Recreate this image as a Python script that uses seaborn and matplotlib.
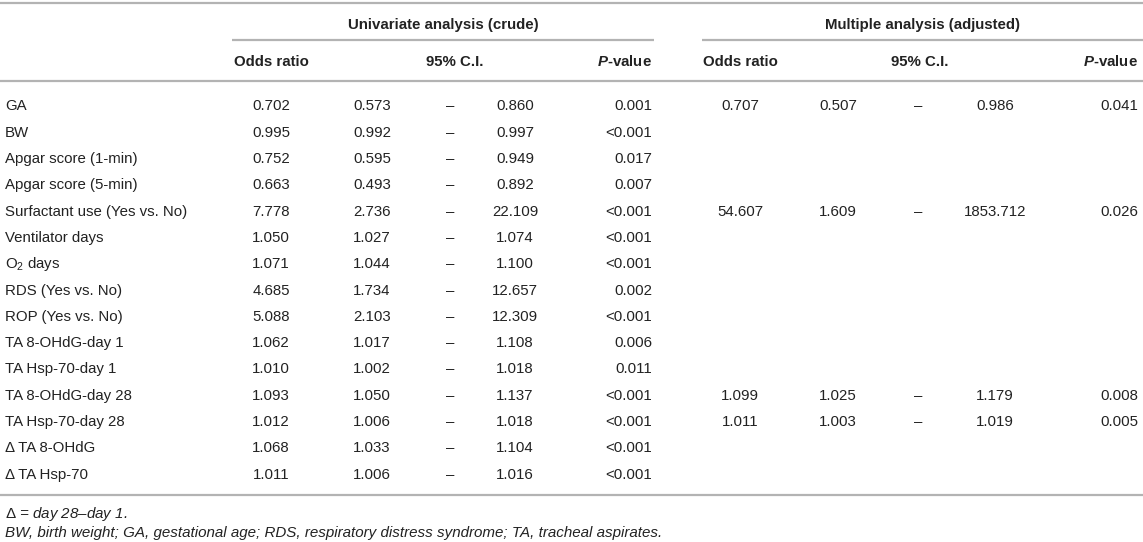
import matplotlib
matplotlib.use("Agg")
import matplotlib.pyplot as plt
import seaborn as sns

# ---------------- data ----------------
variables = ["GA", "BW", "Apgar score (1-min)", "Apgar score (5-min)",
             "Surfactant use (Yes vs. No)", "Ventilator days", "O$_2$ days",
             "RDS (Yes vs. No)", "ROP (Yes vs. No)", "TA 8-OHdG-day 1",
             "TA Hsp-70-day 1", "TA 8-OHdG-day 28", "TA Hsp-70-day 28",
             "\u0394 TA 8-OHdG", "\u0394 TA Hsp-70"]
uni_or = [0.702, 0.995, 0.752, 0.663, 7.778, 1.050, 1.071, 4.685, 5.088,
          1.062, 1.010, 1.093, 1.012, 1.068, 1.011]
uni_lo = [0.573, 0.992, 0.595, 0.493, 2.736, 1.027, 1.044, 1.734, 2.103,
          1.017, 1.002, 1.050, 1.006, 1.033, 1.006]
uni_hi = [0.860, 0.997, 0.949, 0.892, 22.109, 1.074, 1.100, 12.657, 12.309,
          1.108, 1.018, 1.137, 1.018, 1.104, 1.016]
uni_p = ["0.001", "<0.001", "0.017", "0.007", "<0.001", "<0.001", "<0.001",
         "0.002", "<0.001", "0.006", "0.011", "<0.001", "<0.001", "<0.001",
         "<0.001"]
mul_or = [0.707, None, None, None, 54.607, None, None, None, None, None,
          None, 1.099, 1.011, None, None]
mul_lo = [0.507, None, None, None, 1.609, None, None, None, None, None,
          None, 1.025, 1.003, None, None]
mul_hi = [0.986, None, None, None, 1853.712, None, None, None, None, None,
          None, 1.179, 1.019, None, None]
mul_p = ["0.041", None, None, None, "0.026", None, None, None, None, None,
         None, "0.008", "0.005", None, None]
group_titles = ["Univariate analysis (crude)", "Multiple analysis (adjusted)"]
col_titles = ["Odds ratio", "95% C.I.", "$\\mathbfit{P}$-value"]
footnotes = ["$\\Delta$ = day 28\u2013day 1.",
             "BW, birth weight; GA, gestational age; RDS, respiratory distress "
             "syndrome; TA, tracheal aspirates."]

# ---------------- style ----------------
sns.set_theme(style="white")
plt.rcParams["font.family"] = ["Liberation Sans", "DejaVu Sans"]
plt.rcParams["mathtext.fontset"] = "custom"
plt.rcParams["mathtext.rm"] = "Liberation Sans"
plt.rcParams["mathtext.it"] = "Liberation Sans:italic"
plt.rcParams["mathtext.bf"] = "Liberation Sans:bold"
plt.rcParams["mathtext.bfit"] = "Liberation Sans:italic:bold"

W, H = 1143, 542
fig = plt.figure(figsize=(W / 100, H / 100), dpi=100)
ax = fig.add_axes([0, 0, 1, 1])
ax.set_xlim(0, W)
ax.set_ylim(H, 0)
ax.axis("off")

TXT = "#222222"
RULE = "#b3b3b3"
FS = 10.8
FS_FOOT = 10.9
BASE = 5.5  # offset from visual centre to baseline

# layout
label_x = 5
groups = [
    dict(orx=271, lox=372, dashx=450, cix=455, hix=515, px=652,
         rule=(232, 654), vals=(uni_or, uni_lo, uni_hi, uni_p)),
    dict(orx=740, lox=838, dashx=918, cix=920, hix=995, px=1138,
         rule=(702, 1143), vals=(mul_or, mul_lo, mul_hi, mul_p)),
]
y_group, y_head = 23, 61
row0, dy = 105, 26.29

# rules
ax.hlines(3, 0, W, color=RULE, lw=1.6)
ax.hlines(81, 0, W, color=RULE, lw=1.6)
ax.hlines(495, 0, W, color=RULE, lw=1.6)

for g, title in zip(groups, group_titles):
    x0, x1 = g["rule"]
    ax.hlines(40, x0, x1, color=RULE, lw=1.6)
    ax.text((x0 + x1) / 2, y_group + BASE, title, ha="center", va="baseline",
            fontsize=FS, fontweight="bold", color=TXT)
    ax.text(g["orx"], y_head + BASE, col_titles[0], ha="center",
            va="baseline", fontsize=FS, fontweight="bold", color=TXT)
    ax.text(g["cix"], y_head + BASE, col_titles[1], ha="center",
            va="baseline", fontsize=FS, fontweight="bold", color=TXT)
    ax.text(g["px"], y_head + BASE, col_titles[2], ha="right",
            va="baseline", fontsize=FS, fontweight="bold", color=TXT)

for i, name in enumerate(variables):
    y = row0 + i * dy + BASE
    ax.text(label_x, y, name, ha="left", va="baseline", fontsize=FS,
            color=TXT)
    for g in groups:
        o, lo, hi, p = (v[i] for v in g["vals"])
        if o is None:
            continue
        ax.text(g["orx"], y, f"{o:.3f}", ha="center", va="baseline",
                fontsize=FS, color=TXT)
        ax.text(g["lox"], y, f"{lo:.3f}", ha="center", va="baseline",
                fontsize=FS, color=TXT)
        ax.text(g["dashx"], y, "\u2013", ha="center", va="baseline",
                fontsize=FS, color=TXT)
        ax.text(g["hix"], y, f"{hi:.3f}", ha="center", va="baseline",
                fontsize=FS, color=TXT)
        ax.text(g["px"], y, p, ha="right", va="baseline", fontsize=FS,
                color=TXT)

for yy, note in zip([518, 537], footnotes):
    ax.text(label_x, yy, note, ha="left", va="baseline",
            fontsize=FS_FOOT, style="italic", color=TXT)

fig.savefig("out.png", dpi=100)
